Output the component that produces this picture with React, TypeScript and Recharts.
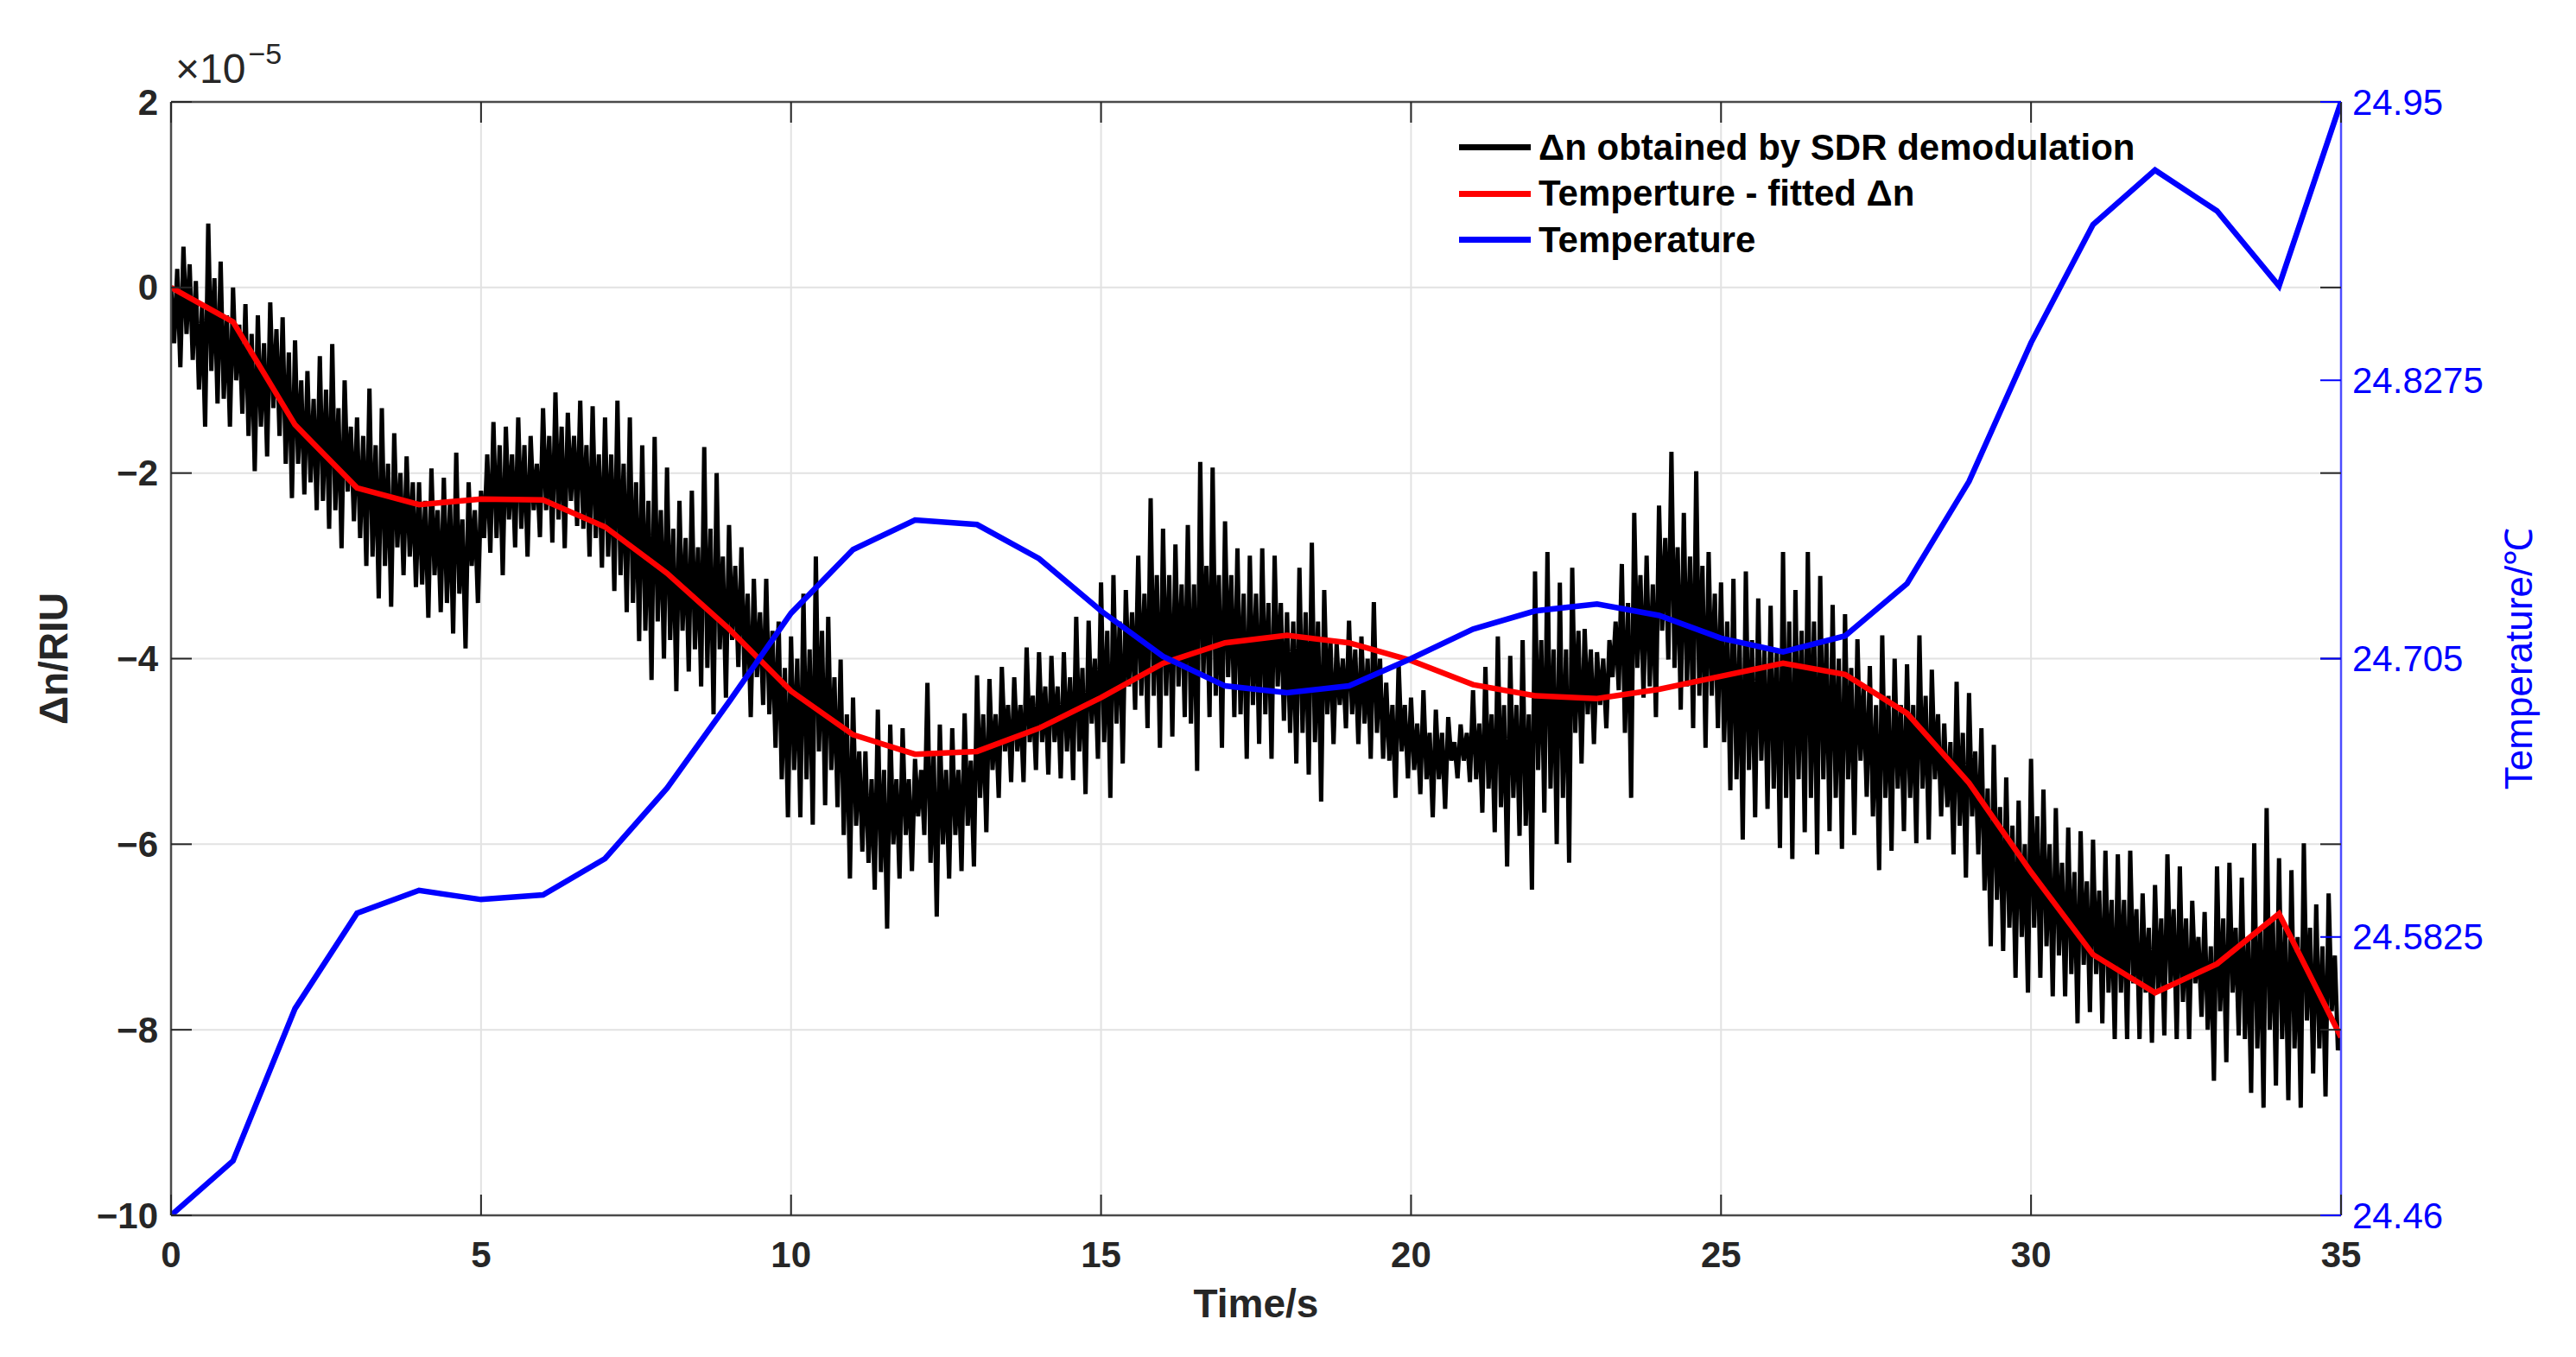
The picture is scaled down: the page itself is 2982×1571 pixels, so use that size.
import { CartesianGrid, Legend, Line, LineChart, ReferenceLine, XAxis, YAxis } from "recharts";

const W = 2982;
const H = 1571;
const PLOT_L = 198;
const PLOT_R = 2710;
const PLOT_T = 118;
const PLOT_B = 1407;
const TICK_LEN = 24;
const FONT = '"Liberation Sans", Arial, Helvetica, sans-serif';
const INK = "#262626";
const AXIS = "#4a4a4a";
const BLUE = "#0000ff";

// seconds, one reading of the thermometer and of the fit per second
const TIME_S = [
  0, 1, 2, 3, 4, 5, 6, 7, 8, 9, 10, 11, 12, 13, 14, 15, 16, 17,
  18, 19, 20, 21, 22, 23, 24, 25, 26, 27, 28, 29, 30, 31, 32, 33, 34, 35
];

const TEMPERATURE_C = [
  24.46, 24.484, 24.551, 24.593, 24.603, 24.599, 24.601, 24.617, 24.648, 24.686,
  24.725, 24.753, 24.766, 24.764, 24.749, 24.726, 24.706, 24.693, 24.69, 24.693,
  24.705, 24.718, 24.726, 24.729, 24.724, 24.714, 24.708, 24.715, 24.738, 24.783,
  24.844, 24.896, 24.92, 24.902, 24.869, 24.95
];

// x 1e-5 RIU
const FITTED_DN = [
  0, -0.37, -1.48, -2.16, -2.34, -2.28, -2.29, -2.58, -3.08, -3.68,
  -4.35, -4.82, -5.03, -5.0, -4.75, -4.42, -4.05, -3.83, -3.75, -3.83,
  -4.02, -4.28, -4.4, -4.43, -4.33, -4.19, -4.05, -4.17, -4.59, -5.34,
  -6.3, -7.19, -7.6, -7.29, -6.75, -8.08
];

// demodulated signal, x 1e-5 RIU, 20 samples per second
const SDR_DN = [
  0.0, -0.6, 0.2, -0.86, 0.44, -0.5, 0.25, -0.78, 0.07, -1.1, -0.2, -1.5, 0.69, -0.9, 0.1, -1.25, 0.28, -1.2, -0.3, -1.5, // 0 s
  0.0, -1.0, -0.4, -1.36, -0.18, -1.6, -0.5, -1.98, -0.3, -1.5, -0.6, -1.82, -0.16, -1.3, -0.45, -1.6, -0.32, -1.9, -0.7, -2.27, // 1 s
  -0.57, -1.9, -1.0, -2.23, -0.9, -2.1, -1.2, -2.4, -0.74, -2.3, -1.1, -2.6, -0.61, -2.4, -1.3, -2.81, -1.0, -2.2, -1.5, -2.52, // 2 s
  -1.4, -2.7, -1.6, -3.0, -1.09, -2.9, -1.7, -3.35, -1.3, -3.0, -1.9, -3.44, -1.57, -2.8, -2.0, -3.1, -1.82, -2.9, -2.1, -3.23, // 3 s
  -2.1, -3.2, -2.3, -3.56, -1.95, -3.1, -2.4, -3.5, -2.05, -3.4, -2.3, -3.73, -1.78, -3.3, -2.5, -3.89, -2.1, -3.0, -2.4, -3.4, // 4 s
  -2.19, -2.7, -1.8, -2.86, -1.45, -2.7, -1.7, -3.1, -1.5, -2.5, -1.8, -2.8, -1.4, -2.6, -1.7, -2.9, -1.6, -2.4, -1.9, -2.69, // 5 s
  -1.3, -2.4, -1.6, -2.75, -1.13, -2.5, -1.5, -2.81, -1.35, -2.3, -1.6, -2.57, -1.22, -2.6, -1.7, -2.9, -1.28, -2.7, -1.8, -3.02, // 6 s
  -1.4, -2.9, -1.8, -3.27, -1.22, -3.1, -1.9, -3.5, -1.4, -3.4, -2.1, -3.81, -1.7, -3.7, -2.3, -4.23, -1.61, -3.6, -2.4, -4.0, // 7 s
  -1.94, -3.8, -2.6, -4.35, -2.3, -3.7, -2.7, -4.14, -2.19, -3.9, -2.8, -4.3, -1.72, -4.1, -2.6, -4.6, -2.0, -3.9, -2.9, -4.42, // 8 s
  -2.56, -3.8, -3.0, -4.09, -2.8, -4.2, -3.3, -4.63, -3.14, -4.2, -3.5, -4.5, -3.14, -4.6, -3.7, -4.96, -3.6, -5.3, -4.1, -5.71, // 9 s
  -3.76, -5.2, -4.0, -5.71, -3.3, -5.3, -3.9, -5.79, -2.9, -5.0, -3.7, -5.58, -3.55, -5.2, -4.2, -5.6, -4.01, -5.9, -4.6, -6.37, // 10 s
  -4.42, -5.8, -5.0, -6.08, -5.0, -6.2, -5.3, -6.49, -4.55, -6.3, -5.2, -6.91, -4.71, -6.0, -5.3, -6.37, -4.75, -5.9, -5.3, -6.29, // 11 s
  -5.08, -5.7, -5.2, -5.9, -4.26, -6.2, -5.0, -6.78, -4.71, -6.0, -5.2, -6.37, -4.75, -5.9, -5.2, -6.29, -4.59, -5.8, -5.1, -6.24, // 12 s
  -4.18, -5.5, -4.6, -5.87, -4.22, -5.2, -4.6, -5.5, -4.09, -5.0, -4.5, -5.33, -4.2, -5.0, -4.5, -5.33, -3.88, -4.9, -4.4, -5.2, // 13 s
  -3.93, -4.9, -4.3, -5.25, -3.97, -4.9, -4.3, -5.29, -3.93, -5.0, -4.2, -5.31, -3.55, -5.0, -4.1, -5.46, -3.59, -4.7, -4.0, -5.08, // 14 s
  -3.18, -4.9, -3.7, -5.5, -3.1, -4.7, -3.6, -5.13, -3.26, -4.3, -3.5, -4.55, -2.89, -4.4, -3.3, -4.75, -2.27, -4.4, -3.1, -4.96, // 15 s
  -2.6, -4.4, -3.1, -4.84, -2.77, -4.3, -3.2, -4.63, -2.56, -4.7, -3.2, -5.21, -1.88, -4.2, -3.0, -4.63, -1.94, -4.4, -3.1, -4.96, // 16 s
  -2.52, -4.2, -3.1, -4.63, -2.81, -4.6, -3.3, -5.08, -2.89, -4.5, -3.3, -4.92, -2.81, -4.6, -3.4, -5.08, -2.89, -4.3, -3.4, -4.67, // 17 s
  -3.5, -4.8, -3.6, -5.13, -3.02, -4.8, -3.5, -5.25, -2.75, -4.9, -3.6, -5.54, -3.26, -4.6, -3.8, -4.92, -3.84, -4.5, -4.0, -4.75, // 18 s
  -3.59, -4.6, -3.9, -4.92, -3.76, -4.7, -4.0, -5.08, -3.39, -4.8, -4.0, -5.08, -4.26, -5.1, -4.5, -5.5, -4.05, -5.0, -4.5, -5.29, // 19 s
  -4.42, -5.2, -4.7, -5.46, -4.34, -5.3, -4.8, -5.71, -4.55, -5.3, -4.8, -5.62, -4.63, -5.1, -4.9, -5.29, -4.71, -5.1, -4.8, -5.33, // 20 s
  -4.34, -5.3, -4.7, -5.66, -4.09, -5.4, -4.6, -5.87, -3.76, -5.6, -4.5, -6.24, -3.97, -5.5, -4.5, -5.91, -3.8, -5.8, -4.6, -6.49, // 21 s
  -3.06, -5.2, -3.8, -5.66, -2.85, -5.4, -3.9, -6.0, -3.18, -5.5, -3.9, -6.2, -3.02, -4.8, -3.7, -5.13, -3.68, -4.6, -3.9, -4.92, // 22 s
  -3.93, -4.5, -4.0, -4.75, -3.8, -4.2, -3.6, -4.34, -2.98, -4.8, -3.4, -5.5, -2.43, -4.1, -3.1, -4.42, -2.89, -4.3, -3.2, -4.63, // 23 s
  -2.35, -3.7, -2.7, -4.01, -1.77, -4.1, -2.8, -4.55, -2.43, -4.3, -2.9, -4.75, -1.98, -4.4, -3.0, -4.96, -2.85, -4.4, -3.3, -4.75, // 24 s
  -3.18, -4.9, -3.6, -5.42, -3.14, -5.3, -3.8, -5.95, -3.06, -5.2, -3.8, -5.71, -3.35, -5.1, -3.9, -5.62, -3.43, -5.4, -3.9, -6.04, // 25 s
  -2.85, -5.5, -3.6, -6.16, -3.26, -5.3, -3.7, -5.87, -2.85, -5.5, -3.6, -6.11, -3.11, -5.3, -3.8, -5.86, -3.42, -5.5, -4.0, -6.05, // 26 s
  -3.52, -5.3, -4.1, -5.9, -3.79, -5.1, -4.3, -5.49, -4.08, -5.7, -4.5, -6.28, -3.75, -5.5, -4.4, -6.07, -4.0, -5.4, -4.5, -5.86, // 27 s
  -4.06, -5.5, -4.5, -5.99, -3.75, -5.4, -4.4, -5.95, -4.12, -5.3, -4.6, -5.7, -4.7, -5.6, -4.9, -6.11, -4.25, -5.8, -4.8, -6.36, // 28 s
  -4.37, -5.7, -5.0, -6.11, -4.75, -6.5, -5.4, -7.1, -4.93, -6.6, -5.6, -7.15, -5.28, -6.9, -5.8, -7.44, -5.53, -7.0, -6.0, -7.6, // 29 s
  -5.08, -6.9, -5.7, -7.44, -5.41, -7.1, -6.0, -7.64, -5.61, -7.2, -6.2, -7.64, -5.82, -7.4, -6.3, -7.93, -5.86, -7.3, -6.4, -7.81, // 30 s
  -5.95, -7.4, -6.5, -7.93, -6.07, -7.6, -6.6, -8.1, -6.11, -7.6, -6.6, -8.1, -6.07, -7.5, -6.7, -8.1, -6.53, -7.6, -6.9, -8.14, // 31 s
  -6.44, -7.6, -6.8, -8.06, -6.11, -7.5, -6.7, -8.1, -6.24, -7.7, -6.8, -8.1, -6.61, -7.5, -7.0, -7.86, -6.73, -8.0, -7.1, -8.55, // 32 s
  -6.24, -7.8, -6.8, -8.35, -6.2, -7.6, -6.9, -8.06, -6.36, -8.1, -7.0, -8.68, -5.99, -8.2, -6.9, -8.84, -5.61, -8.0, -6.8, -8.6, // 33 s
  -6.15, -8.1, -6.9, -8.76, -6.28, -8.2, -7.0, -8.84, -5.99, -7.9, -6.9, -8.47, -6.65, -8.2, -7.1, -8.72, -6.53, -7.8, -7.2, -8.22, // 34 s
  -8.0 // 35 s
];
const SAMPLES_PER_S = 20;

const X_TICKS = [0, 5, 10, 15, 20, 25, 30, 35];
const DN_TICKS = [-10, -8, -6, -4, -2, 0, 2];
const TEMP_TICKS = [24.46, 24.5825, 24.705, 24.8275, 24.95];

const SERIES_NAMES = [
  "Δn obtained by SDR demodulation",
  "Temperture - fitted Δn",
  "Temperature"
];

const perSecond = TIME_S.map((t, i) => ({ t, temp: TEMPERATURE_C[i], fit: FITTED_DN[i] }));
const sampled = SDR_DN.map((dn, i) => ({ t: i / SAMPLES_PER_S, dn }));

const minus = (v: number) => (v < 0 ? `\u2212${Math.abs(v)}` : String(v));

function XTick({ x, payload }: any) {
  return (
    <g>
      <line x1={x} x2={x} y1={PLOT_B} y2={PLOT_B - TICK_LEN} stroke={INK} strokeWidth={2} />
      <line x1={x} x2={x} y1={PLOT_T} y2={PLOT_T + TICK_LEN} stroke={INK} strokeWidth={2} />
      <text
        x={x}
        y={PLOT_B + 45}
        textAnchor="middle"
        dominantBaseline="central"
        fontFamily={FONT}
        fontWeight={700}
        fontSize={42}
        fill={INK}
      >
        {payload.value}
      </text>
    </g>
  );
}

function LeftTick({ y, payload }: any) {
  return (
    <g>
      <line x1={PLOT_L} x2={PLOT_L + TICK_LEN} y1={y} y2={y} stroke={INK} strokeWidth={2} />
      <line x1={PLOT_R - TICK_LEN} x2={PLOT_R} y1={y} y2={y} stroke={INK} strokeWidth={2} />
      <text
        x={PLOT_L - 15}
        y={y}
        textAnchor="end"
        dominantBaseline="central"
        fontFamily={FONT}
        fontWeight={700}
        fontSize={42}
        fill={INK}
      >
        {minus(payload.value)}
      </text>
    </g>
  );
}

function RightTick({ y, payload }: any) {
  return (
    <g>
      <line x1={PLOT_R - TICK_LEN} x2={PLOT_R} y1={y} y2={y} stroke={BLUE} strokeWidth={2} />
      <text
        x={PLOT_R + 13}
        y={y}
        textAnchor="start"
        dominantBaseline="central"
        fontFamily={FONT}
        fontSize={42}
        fill={BLUE}
      >
        {String(payload.value)}
      </text>
    </g>
  );
}

function XTitle({ viewBox }: any) {
  return (
    <text
      x={viewBox.x + viewBox.width / 2}
      y={1509}
      textAnchor="middle"
      dominantBaseline="central"
      fontFamily={FONT}
      fontWeight={700}
      fontSize={46}
      fill={INK}
    >
      Time/s
    </text>
  );
}

function LeftTitle({ viewBox }: any) {
  const cy = viewBox.y + viewBox.height / 2;
  return (
    <text
      x={62}
      y={cy}
      transform={`rotate(-90 62 ${cy})`}
      textAnchor="middle"
      dominantBaseline="central"
      fontFamily={FONT}
      fontWeight={700}
      fontSize={46}
      fill={INK}
    >
      Δn/RIU
    </text>
  );
}

function RightTitle({ viewBox }: any) {
  const cy = viewBox.y + viewBox.height / 2;
  return (
    <text
      x={2915}
      y={cy}
      transform={`rotate(-90 2915 ${cy})`}
      textAnchor="middle"
      dominantBaseline="central"
      fontFamily={FONT}
      fontSize={44}
      fill={BLUE}
    >
      Temperature/℃
    </text>
  );
}

function LegendContent({ payload }: any) {
  const items = [...(payload || [])].sort(
    (a, b) => SERIES_NAMES.indexOf(a.value) - SERIES_NAMES.indexOf(b.value)
  );
  return (
    <div style={{ fontFamily: FONT, fontWeight: 700, fontSize: 42, color: "#000" }}>
      {items.map((item) => (
        <div key={item.value} style={{ display: "flex", alignItems: "center", height: 53.5 }}>
          <span style={{ width: 83, height: 7, background: item.color, marginRight: 9 }} />
          <span style={{ whiteSpace: "nowrap" }}>{item.value}</span>
        </div>
      ))}
    </div>
  );
}

export default function App() {
  return (
    <div style={{ position: "absolute", left: 0, top: 0, width: W, height: H, background: "#fff" }}>
      <LineChart width={W} height={H} margin={{ top: PLOT_T, right: 0, bottom: 0, left: 0 }}>
        <CartesianGrid yAxisId="left" stroke="#e2e2e2" strokeWidth={2} />
        <XAxis
          dataKey="t"
          type="number"
          domain={[0, 35]}
          ticks={X_TICKS}
          interval={0}
          height={H - PLOT_B}
          allowDataOverflow
          axisLine={{ stroke: AXIS, strokeWidth: 2.5 }}
          tickLine={false}
          tick={XTick}
          label={XTitle}
        />
        <YAxis
          yAxisId="left"
          orientation="left"
          width={PLOT_L}
          domain={[-10, 2]}
          ticks={DN_TICKS}
          interval={0}
          allowDataOverflow
          axisLine={{ stroke: AXIS, strokeWidth: 2.5 }}
          tickLine={false}
          tick={LeftTick}
          label={LeftTitle}
        />
        <YAxis
          yAxisId="right"
          orientation="right"
          width={W - PLOT_R}
          domain={[24.46, 24.95]}
          ticks={TEMP_TICKS}
          interval={0}
          allowDataOverflow
          axisLine={{ stroke: "#4d4dff", strokeWidth: 2.5 }}
          tickLine={false}
          tick={RightTick}
          label={RightTitle}
        />
        <ReferenceLine yAxisId="left" y={2} stroke={AXIS} strokeWidth={2.5} />
        <Line
          data={sampled}
          yAxisId="left"
          dataKey="dn"
          name={SERIES_NAMES[0]}
          type="linear"
          stroke="#000000"
          strokeWidth={5}
          strokeLinejoin="bevel"
          dot={false}
          activeDot={false}
          isAnimationActive={false}
        />
        <Line
          data={perSecond}
          yAxisId="left"
          dataKey="fit"
          name={SERIES_NAMES[1]}
          type="linear"
          stroke="#ff0000"
          strokeWidth={6.5}
          dot={false}
          activeDot={false}
          isAnimationActive={false}
        />
        <Line
          data={perSecond}
          yAxisId="right"
          dataKey="temp"
          name={SERIES_NAMES[2]}
          type="linear"
          stroke={BLUE}
          strokeWidth={6.5}
          dot={false}
          activeDot={false}
          isAnimationActive={false}
        />
        <Legend
          layout="vertical"
          align="center"
          verticalAlign="middle"
          wrapperStyle={{ left: 1689, top: 144, width: 900 }}
          content={LegendContent}
        />
      </LineChart>
      <div
        style={{
          position: "absolute",
          left: 203,
          top: 56,
          fontFamily: FONT,
          fontSize: 48,
          color: INK,
          lineHeight: 1,
          whiteSpace: "nowrap"
        }}
      >
        ×10
        <span style={{ fontSize: 34, position: "relative", top: -22, marginLeft: 3 }}>−5</span>
      </div>
    </div>
  );
}
